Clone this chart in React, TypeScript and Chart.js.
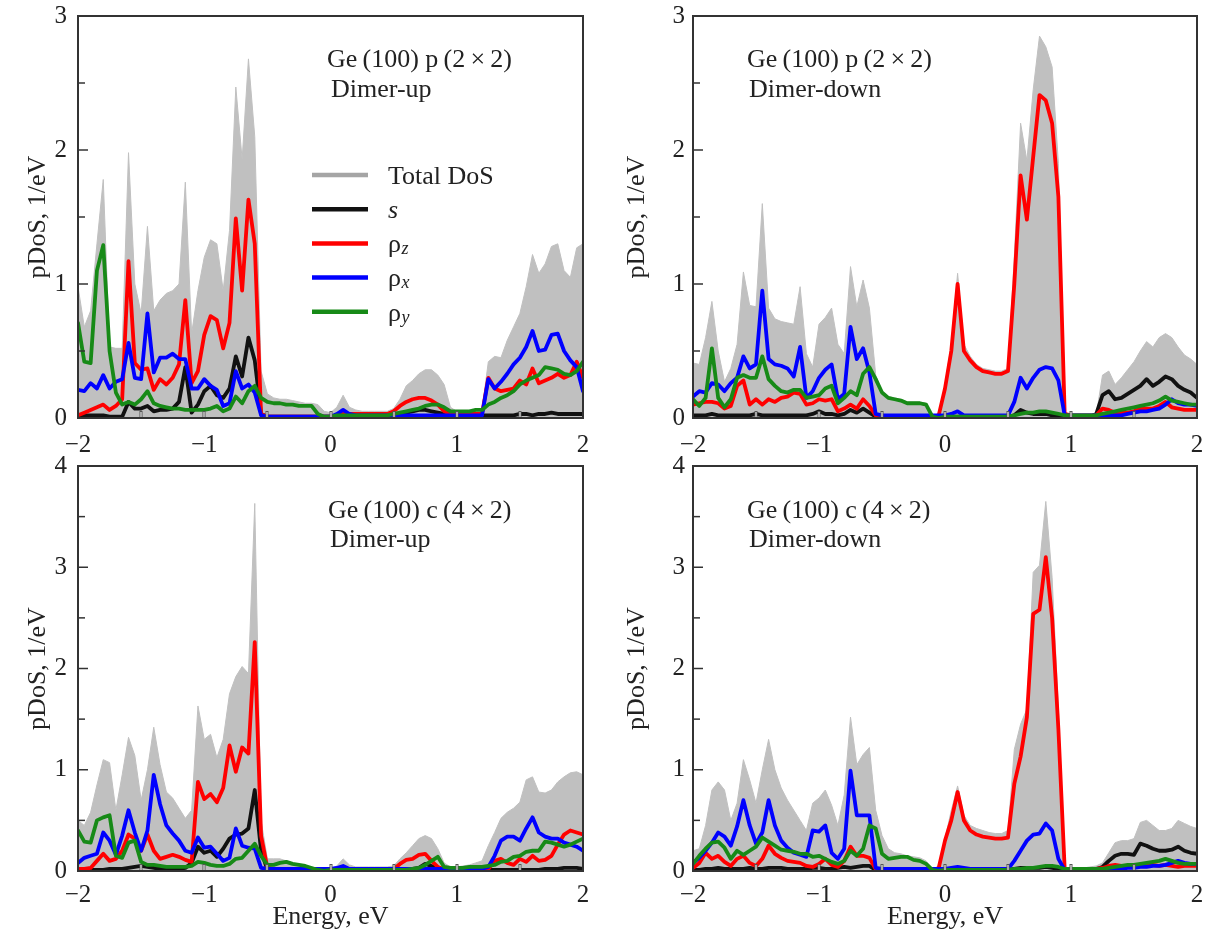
import React, { useEffect, useRef } from "react";
import { Chart, registerables } from "chart.js";

Chart.register(...registerables);

const SERIF = "'Liberation Serif', 'Times New Roman', Times, serif";
const INK = "#222222";
const FRAME = "#333333";

// Energy grid, eV
const ENERGY = [
  -2, -1.95, -1.9, -1.85, -1.8, -1.75, -1.7, -1.65, -1.6, -1.55,
  -1.5, -1.45, -1.4, -1.35, -1.3, -1.25, -1.2, -1.15, -1.1, -1.05,
  -1, -0.95, -0.9, -0.85, -0.8, -0.75, -0.7, -0.65, -0.6, -0.55,
  -0.5, -0.45, -0.4, -0.35, -0.3, -0.25, -0.2, -0.15, -0.1, -0.05,
  0, 0.05, 0.1, 0.15, 0.2, 0.25, 0.3, 0.35, 0.4, 0.45,
  0.5, 0.55, 0.6, 0.65, 0.7, 0.75, 0.8, 0.85, 0.9, 0.95,
  1, 1.05, 1.1, 1.15, 1.2, 1.25, 1.3, 1.35, 1.4, 1.45,
  1.5, 1.55, 1.6, 1.65, 1.7, 1.75, 1.8, 1.85, 1.9, 1.95,
  2,
];

// ---- Panel A: Ge(100) p(2x2), dimer-up ----
const A_TOTAL = [
  0.98, 0.68, 0.8, 1.3, 1.78, 0.53, 0.52, 0.52, 1.98, 1.0,
  0.78, 1.43, 0.8, 0.88, 0.93, 0.95, 1.0, 1.76, 0.63, 0.95,
  1.2, 1.33, 1.3, 0.95, 1.4, 2.47, 1.93, 2.68, 2.1, 0.35,
  0.18, 0.15, 0.14, 0.14, 0.13, 0.12, 0.11, 0.11, 0.1, 0.05,
  0.04, 0.08, 0.17, 0.08, 0.06, 0.05, 0.05, 0.05, 0.05, 0.05,
  0.07, 0.14, 0.24, 0.28, 0.33, 0.36, 0.36, 0.32, 0.25, 0.08,
  0.05, 0.05, 0.05, 0.05, 0.06, 0.42, 0.46, 0.45, 0.58, 0.68,
  0.78, 0.98, 1.22, 1.08, 1.15, 1.28, 1.3, 1.1, 1.05, 1.27,
  1.3,
];
const A_S = [
  0.02, 0.02, 0.02, 0.02, 0.02, 0.01, 0.01, 0.01, 0.12, 0.07,
  0.07, 0.09, 0.05, 0.06, 0.06, 0.07, 0.12, 0.38, 0.04, 0.1,
  0.2, 0.24, 0.17, 0.15, 0.22, 0.46, 0.31, 0.6, 0.43, 0.03,
  0.01, 0.01, 0.01, 0.01, 0.01, 0.01, 0.01, 0.01, 0.01, 0.01,
  0.01, 0.02, 0.02, 0.02, 0.02, 0.02, 0.02, 0.02, 0.02, 0.02,
  0.02, 0.03, 0.04, 0.05, 0.06, 0.06, 0.05, 0.04, 0.03, 0.02,
  0.02, 0.02, 0.02, 0.02, 0.02, 0.02, 0.02, 0.02, 0.02, 0.02,
  0.03, 0.03, 0.02, 0.03, 0.03, 0.04, 0.03, 0.03, 0.03, 0.03,
  0.03,
];
const A_PZ = [
  0.02, 0.04, 0.06, 0.08, 0.1, 0.06, 0.09, 0.14, 1.17, 0.41,
  0.36, 0.37, 0.21, 0.29, 0.25, 0.3, 0.4, 0.88, 0.26, 0.35,
  0.62, 0.76, 0.73, 0.52, 0.71, 1.49, 0.95, 1.63, 1.3, 0.03,
  0.01, 0.01, 0.01, 0.01, 0.01, 0.01, 0.01, 0.01, 0.01, 0.01,
  0.01, 0.02, 0.03, 0.03, 0.03, 0.03, 0.03, 0.03, 0.03, 0.03,
  0.05, 0.09, 0.12, 0.14, 0.15, 0.15, 0.13, 0.1, 0.05, 0.03,
  0.03, 0.03, 0.03, 0.03, 0.03, 0.3, 0.22, 0.2, 0.21, 0.22,
  0.28, 0.25, 0.37, 0.26, 0.28, 0.3, 0.33, 0.3, 0.32, 0.42,
  0.3,
];
const A_PX = [
  0.21, 0.2, 0.26, 0.22, 0.32, 0.22, 0.27, 0.29, 0.56, 0.3,
  0.29, 0.78, 0.34, 0.45, 0.45, 0.48, 0.44, 0.44, 0.22, 0.22,
  0.29, 0.24, 0.21, 0.09, 0.11, 0.35, 0.22, 0.25, 0.19, 0.02,
  0.01, 0.01, 0.01, 0.01, 0.01, 0.01, 0.01, 0.01, 0.01, 0.01,
  0.01, 0.03, 0.06, 0.03, 0.02, 0.02, 0.02, 0.02, 0.02, 0.02,
  0.02, 0.02, 0.02, 0.02, 0.02, 0.02, 0.02, 0.02, 0.02, 0.02,
  0.02, 0.02, 0.02, 0.02, 0.02, 0.29, 0.22, 0.27, 0.33, 0.4,
  0.45, 0.53, 0.65, 0.5, 0.51, 0.62, 0.63, 0.5, 0.43, 0.38,
  0.2,
];
const A_PY = [
  0.71, 0.42, 0.41, 1.1, 1.29, 0.5, 0.19, 0.1, 0.12, 0.1,
  0.14, 0.2, 0.11, 0.09, 0.08, 0.07, 0.07, 0.06, 0.06, 0.06,
  0.06, 0.07, 0.09, 0.05, 0.07, 0.16, 0.11, 0.2, 0.24, 0.15,
  0.12, 0.11, 0.11, 0.1, 0.1, 0.09, 0.09, 0.09, 0.03, 0.01,
  0.01, 0.02, 0.02, 0.02, 0.02, 0.02, 0.02, 0.02, 0.02, 0.02,
  0.03, 0.04, 0.05, 0.06, 0.07, 0.09, 0.1, 0.1, 0.08, 0.05,
  0.05, 0.05, 0.05, 0.06, 0.06, 0.1, 0.12, 0.15, 0.17, 0.2,
  0.25, 0.28, 0.3, 0.32, 0.38, 0.37, 0.36, 0.33, 0.32, 0.35,
  0.42,
];

// ---- Panel B: Ge(100) p(2x2), dimer-down ----
const B_TOTAL = [
  0.41, 0.4, 0.6, 0.87, 0.5, 0.27, 0.37, 0.55, 1.09, 0.84,
  0.83, 1.6, 0.82, 0.74, 0.72, 0.71, 0.7, 0.98, 0.48, 0.38,
  0.7, 0.75, 0.82, 0.55, 0.48, 1.13, 0.83, 1.03, 0.82, 0.32,
  0.2, 0.16, 0.15, 0.14, 0.12, 0.12, 0.12, 0.11, 0.01, 0.0,
  0.25, 0.55, 1.08, 0.55, 0.46, 0.4, 0.37, 0.36, 0.35, 0.35,
  0.37, 1.2, 2.2, 1.92, 2.45, 2.85, 2.77, 2.62, 1.9, 0.05,
  0.01, 0.01, 0.01, 0.01, 0.02, 0.32, 0.35, 0.25, 0.3, 0.36,
  0.42, 0.5, 0.57, 0.53, 0.6, 0.63, 0.6, 0.53, 0.47, 0.44,
  0.4,
];
const B_S = [
  0.02, 0.02, 0.02, 0.03, 0.02, 0.02, 0.02, 0.02, 0.02, 0.02,
  0.03, 0.02, 0.02, 0.02, 0.02, 0.02, 0.02, 0.02, 0.02, 0.03,
  0.05, 0.03, 0.03, 0.02, 0.03, 0.06, 0.04, 0.07, 0.04, 0.01,
  0.01, 0.01, 0.01, 0.01, 0.01, 0.01, 0.01, 0.01, 0.01, 0.01,
  0.01, 0.01, 0.01, 0.01, 0.01, 0.01, 0.01, 0.01, 0.01, 0.01,
  0.01, 0.02, 0.06, 0.04, 0.03, 0.03, 0.03, 0.02, 0.02, 0.01,
  0.01, 0.01, 0.01, 0.01, 0.03, 0.17, 0.2, 0.14, 0.15, 0.18,
  0.21, 0.24, 0.29, 0.24, 0.27, 0.31, 0.29, 0.24, 0.21, 0.19,
  0.15,
];
const B_PZ = [
  0.1, 0.11, 0.12, 0.12, 0.11, 0.07, 0.09, 0.24, 0.28, 0.1,
  0.14, 0.1, 0.14, 0.12, 0.15, 0.16, 0.19, 0.18, 0.1, 0.11,
  0.14, 0.13, 0.14, 0.05, 0.07, 0.1, 0.07, 0.14, 0.09, 0.02,
  0.01, 0.01, 0.01, 0.01, 0.01, 0.01, 0.01, 0.01, 0.01, 0.02,
  0.22, 0.5, 1.0, 0.5, 0.43, 0.38, 0.35, 0.34, 0.33, 0.33,
  0.35, 1.0, 1.81, 1.48, 1.95, 2.41, 2.37, 2.2, 1.65, 0.03,
  0.02, 0.02, 0.02, 0.02, 0.02, 0.07, 0.06, 0.04, 0.04, 0.04,
  0.05, 0.07, 0.07, 0.07, 0.09, 0.12, 0.08, 0.07, 0.06, 0.06,
  0.06,
];
const B_PX = [
  0.16, 0.2, 0.19, 0.26, 0.25, 0.2, 0.26, 0.3, 0.46, 0.37,
  0.4, 0.95, 0.44, 0.4, 0.39, 0.37, 0.31, 0.53, 0.15, 0.2,
  0.3, 0.36, 0.4, 0.14, 0.18, 0.68, 0.44, 0.52, 0.34, 0.03,
  0.02, 0.02, 0.02, 0.02, 0.02, 0.02, 0.02, 0.02, 0.02, 0.02,
  0.02, 0.03, 0.05, 0.02, 0.02, 0.02, 0.02, 0.02, 0.02, 0.02,
  0.02, 0.12, 0.3, 0.22, 0.3, 0.36, 0.38, 0.37, 0.28, 0.02,
  0.02, 0.02, 0.02, 0.02, 0.02, 0.02, 0.02, 0.02, 0.02, 0.03,
  0.04, 0.05, 0.05, 0.06, 0.07, 0.1, 0.14, 0.11, 0.1, 0.1,
  0.09,
];
const B_PY = [
  0.14, 0.09, 0.15, 0.52, 0.15, 0.08, 0.14, 0.3, 0.32, 0.3,
  0.3, 0.46, 0.29, 0.24, 0.2, 0.19, 0.21, 0.21, 0.15, 0.16,
  0.17, 0.22, 0.24, 0.11, 0.15, 0.2, 0.17, 0.33, 0.38, 0.29,
  0.19, 0.15, 0.14, 0.13, 0.11, 0.11, 0.11, 0.1, 0.01, 0.0,
  0.01, 0.01, 0.01, 0.01, 0.01, 0.01, 0.01, 0.01, 0.01, 0.01,
  0.01, 0.02, 0.03, 0.04, 0.04, 0.05, 0.05, 0.04, 0.03, 0.02,
  0.02, 0.02, 0.02, 0.02, 0.02, 0.03, 0.04, 0.05, 0.06, 0.07,
  0.08, 0.09, 0.1, 0.11, 0.13, 0.16, 0.13, 0.12, 0.11, 0.1,
  0.1,
];

// ---- Panel C: Ge(100) c(4x2), dimer-up ----
const C_TOTAL = [
  0.5, 0.45, 0.58, 0.85, 1.1, 1.07, 0.6, 0.95, 1.32, 1.14,
  0.7, 1.0, 1.42, 1.05, 0.78, 0.72, 0.62, 0.52, 0.6, 1.63,
  1.3, 1.35, 1.12, 1.3, 1.75, 1.92, 2.02, 1.95, 3.63, 0.5,
  0.12, 0.12, 0.12, 0.1, 0.08, 0.06, 0.05, 0.04, 0.03, 0.02,
  0.02, 0.05, 0.12, 0.06, 0.04, 0.04, 0.04, 0.04, 0.04, 0.04,
  0.05, 0.12, 0.18, 0.25, 0.32, 0.35, 0.32, 0.22, 0.08, 0.04,
  0.04, 0.05, 0.06, 0.08, 0.1, 0.25, 0.38, 0.52, 0.58, 0.62,
  0.68, 0.9, 0.93, 0.78, 0.77, 0.8, 0.88, 0.93, 0.97, 0.98,
  0.95,
];
const C_S = [
  0.02, 0.01, 0.01, 0.01, 0.01, 0.02, 0.02, 0.02, 0.03, 0.04,
  0.05, 0.04, 0.03, 0.02, 0.02, 0.02, 0.02, 0.03, 0.08, 0.24,
  0.18, 0.2, 0.14, 0.22, 0.32, 0.36, 0.37, 0.42, 0.8, 0.2,
  0.01, 0.01, 0.01, 0.01, 0.01, 0.01, 0.01, 0.01, 0.01, 0.01,
  0.01, 0.01, 0.01, 0.01, 0.01, 0.01, 0.01, 0.01, 0.01, 0.01,
  0.01, 0.01, 0.01, 0.02, 0.03, 0.07, 0.05, 0.02, 0.01, 0.01,
  0.01, 0.01, 0.01, 0.01, 0.01, 0.01, 0.01, 0.01, 0.01, 0.01,
  0.01, 0.01, 0.01, 0.01, 0.02, 0.02, 0.02, 0.03, 0.03, 0.03,
  0.02,
];
const C_PZ = [
  0.02, 0.02, 0.03, 0.1, 0.17, 0.1, 0.12, 0.2, 0.36, 0.32,
  0.2, 0.36, 0.2, 0.12, 0.14, 0.16, 0.14, 0.11, 0.09, 0.88,
  0.71, 0.76, 0.68, 0.82, 1.24, 0.98, 1.22, 1.16, 2.26, 0.35,
  0.03, 0.02, 0.02, 0.02, 0.02, 0.02, 0.02, 0.02, 0.02, 0.02,
  0.02, 0.02, 0.02, 0.02, 0.02, 0.02, 0.02, 0.02, 0.02, 0.02,
  0.02, 0.07, 0.11, 0.12, 0.16, 0.17, 0.1, 0.04, 0.02, 0.02,
  0.02, 0.02, 0.02, 0.02, 0.02, 0.02, 0.1, 0.12, 0.08, 0.06,
  0.12, 0.09, 0.15, 0.1, 0.11, 0.15, 0.26, 0.36, 0.4, 0.38,
  0.36,
];
const C_PX = [
  0.08, 0.13, 0.15, 0.17, 0.38, 0.3, 0.16, 0.35, 0.6, 0.38,
  0.2, 0.4, 0.95, 0.66, 0.45, 0.37, 0.3, 0.2, 0.18, 0.33,
  0.23, 0.24, 0.17, 0.1, 0.13, 0.42, 0.25, 0.23, 0.22, 0.03,
  0.02, 0.02, 0.02, 0.02, 0.02, 0.02, 0.02, 0.02, 0.02, 0.02,
  0.02, 0.03, 0.05, 0.02, 0.02, 0.02, 0.02, 0.02, 0.02, 0.02,
  0.02, 0.02, 0.02, 0.02, 0.02, 0.02, 0.02, 0.02, 0.02, 0.02,
  0.02, 0.02, 0.02, 0.02, 0.02, 0.04, 0.15, 0.3, 0.34, 0.34,
  0.3, 0.42, 0.53, 0.38, 0.34, 0.32, 0.32, 0.28, 0.26, 0.24,
  0.2,
];
const C_PY = [
  0.4, 0.29, 0.28, 0.5, 0.53, 0.55, 0.15, 0.13, 0.28, 0.3,
  0.09, 0.06, 0.06, 0.05, 0.04, 0.04, 0.04, 0.04, 0.05, 0.09,
  0.08, 0.06, 0.05, 0.05, 0.07, 0.12, 0.13, 0.2, 0.27, 0.15,
  0.06, 0.06, 0.08, 0.09, 0.07, 0.06, 0.05, 0.03, 0.01, 0.0,
  0.01, 0.01, 0.01, 0.01, 0.01, 0.01, 0.01, 0.01, 0.01, 0.01,
  0.01, 0.01, 0.01, 0.02, 0.03, 0.06, 0.1, 0.14, 0.04, 0.03,
  0.03, 0.03, 0.04, 0.04, 0.04, 0.05, 0.06, 0.09, 0.1, 0.14,
  0.15, 0.19, 0.2, 0.2, 0.29, 0.28, 0.26, 0.24, 0.26, 0.29,
  0.32,
];

// ---- Panel D: Ge(100) c(4x2), dimer-down ----
const D_TOTAL = [
  0.2, 0.22, 0.45, 0.8, 0.88, 0.8, 0.5, 0.67, 1.1, 0.9,
  0.67, 1.0, 1.3, 1.0, 0.82, 0.7, 0.6, 0.5, 0.4, 0.67,
  0.72, 0.8, 0.65, 0.45, 0.75, 1.52, 1.05, 1.15, 1.22, 0.6,
  0.35, 0.22, 0.18, 0.17, 0.15, 0.14, 0.13, 0.1, 0.02, 0.0,
  0.32, 0.6, 0.84, 0.55, 0.45, 0.42, 0.4, 0.38, 0.37, 0.37,
  0.4, 1.2, 1.45, 1.6, 2.95, 3.02, 3.65, 2.9, 1.6, 0.03,
  0.01, 0.02, 0.03, 0.04, 0.05, 0.08, 0.18, 0.28, 0.3, 0.3,
  0.32, 0.48, 0.5, 0.45, 0.4, 0.4, 0.42, 0.5, 0.47, 0.44,
  0.42,
];
const D_S = [
  0.01, 0.01, 0.02, 0.02, 0.03, 0.02, 0.02, 0.02, 0.02, 0.03,
  0.02, 0.02, 0.03, 0.03, 0.03, 0.02, 0.02, 0.02, 0.02, 0.03,
  0.03, 0.02, 0.02, 0.03, 0.04, 0.03, 0.04, 0.05, 0.05, 0.01,
  0.01, 0.01, 0.01, 0.01, 0.01, 0.01, 0.01, 0.01, 0.01, 0.01,
  0.01, 0.01, 0.01, 0.01, 0.01, 0.01, 0.01, 0.01, 0.01, 0.01,
  0.01, 0.02, 0.03, 0.03, 0.03, 0.03, 0.04, 0.03, 0.02, 0.01,
  0.01, 0.01, 0.01, 0.01, 0.02, 0.04, 0.1, 0.15, 0.17, 0.17,
  0.16, 0.27, 0.25, 0.22, 0.2, 0.2, 0.21, 0.24, 0.2, 0.18,
  0.17,
];
const D_PZ = [
  0.03, 0.08, 0.18, 0.12, 0.15, 0.09, 0.05, 0.12, 0.15, 0.08,
  0.05, 0.12, 0.25, 0.17, 0.13, 0.1, 0.09, 0.08, 0.05, 0.04,
  0.07, 0.12, 0.06, 0.04, 0.1, 0.24, 0.15, 0.15, 0.13, 0.02,
  0.01, 0.01, 0.01, 0.01, 0.01, 0.01, 0.01, 0.01, 0.01, 0.03,
  0.3, 0.5, 0.78, 0.5, 0.4, 0.36, 0.34, 0.33, 0.32, 0.32,
  0.33, 0.86, 1.13, 1.52, 2.54, 2.58, 3.1, 2.5, 1.4, 0.02,
  0.02, 0.02, 0.02, 0.02, 0.02, 0.03, 0.05, 0.06, 0.05, 0.04,
  0.04, 0.05, 0.05, 0.06, 0.05, 0.06, 0.05, 0.04, 0.05, 0.05,
  0.05,
];
const D_PX = [
  0.08, 0.13, 0.2, 0.28, 0.38, 0.34, 0.25, 0.44, 0.7, 0.45,
  0.27, 0.38, 0.7, 0.45, 0.3, 0.23, 0.18, 0.16, 0.14, 0.4,
  0.39, 0.45, 0.18, 0.12, 0.22, 0.99, 0.55, 0.55, 0.55, 0.03,
  0.02, 0.02, 0.02, 0.02, 0.02, 0.02, 0.02, 0.02, 0.02, 0.02,
  0.02, 0.03, 0.04, 0.03, 0.02, 0.02, 0.02, 0.02, 0.02, 0.02,
  0.02, 0.1, 0.2, 0.3, 0.36, 0.37, 0.47, 0.4, 0.12, 0.01,
  0.01, 0.01, 0.01, 0.01, 0.01, 0.01, 0.02, 0.02, 0.02, 0.03,
  0.03, 0.04, 0.04, 0.05, 0.05, 0.06, 0.08, 0.1, 0.08, 0.07,
  0.07,
];
const D_PY = [
  0.07, 0.15, 0.22, 0.28, 0.29, 0.23, 0.12, 0.2, 0.16, 0.2,
  0.24, 0.33, 0.29, 0.25, 0.21, 0.2, 0.19, 0.17, 0.17, 0.14,
  0.15, 0.12, 0.09, 0.07, 0.1, 0.2, 0.15, 0.22, 0.45, 0.42,
  0.17, 0.12, 0.13, 0.14, 0.14, 0.11, 0.1, 0.07, 0.01, 0.0,
  0.01, 0.01, 0.01, 0.01, 0.01, 0.01, 0.01, 0.01, 0.01, 0.01,
  0.01, 0.02, 0.02, 0.03, 0.03, 0.04, 0.05, 0.05, 0.04, 0.02,
  0.02, 0.02, 0.02, 0.02, 0.02, 0.02, 0.03, 0.04, 0.05, 0.06,
  0.06, 0.07, 0.08, 0.09, 0.1, 0.12, 0.1, 0.08, 0.07, 0.07,
  0.07,
];

const SERIES_LABELS = ["Total DoS", "s", "\u03C1z", "\u03C1x", "\u03C1y"];
const PANEL_TITLES = [
  ["Ge\u2009(100) p\u2009(2\u2009\u00D7\u20092)", "Dimer-up"],
  ["Ge\u2009(100) p\u2009(2\u2009\u00D7\u20092)", "Dimer-down"],
  ["Ge\u2009(100) c\u2009(4\u2009\u00D7\u20092)", "Dimer-up"],
  ["Ge\u2009(100) c\u2009(4\u2009\u00D7\u20092)", "Dimer-down"],
];
const X_MARKS = [-1.5, -1, -0.5, 0, 0.5, 1, 1.5];

const TOTAL_FILL = "rgb(192,192,192)";
const LEGEND_GREY = "rgb(165,165,165)";
const LINE_COLORS = ["#111111", "#ff0000", "#0000ff", "#178a17"];

type PanelSpec = {
  key: string;
  left: number; top: number; w: number; h: number;
  yMax: number; yAxisW: number; padRight: number; xAxisH: number;
  xTickPad: number; yTickPad: number; yTitlePad: number; showXTitle: boolean; legend: boolean;
  titles: string[]; titlePos: number[][];
  series: number[][];
};

const PANELS: PanelSpec[] = [
  {
    key: "a", left: 0, top: 0, w: 604, h: 470, yMax: 3, yAxisW: 78, padRight: 21, xAxisH: 52,
    xTickPad: 12, yTickPad: 11, yTitlePad: 23, showXTitle: false, legend: true,
    titles: PANEL_TITLES[0], titlePos: [[249, 50.7], [253, 80.7]],
    series: [A_TOTAL, A_S, A_PZ, A_PX, A_PY],
  },
  {
    key: "b", left: 604, top: 0, w: 604, h: 470, yMax: 3, yAxisW: 89, padRight: 11, xAxisH: 52,
    xTickPad: 12, yTickPad: 8, yTitlePad: 18, showXTitle: false, legend: false,
    titles: PANEL_TITLES[1], titlePos: [[54, 50.7], [56, 80.7]],
    series: [B_TOTAL, B_S, B_PZ, B_PX, B_PY],
  },
  {
    key: "c", left: 0, top: 450, w: 604, h: 490, yMax: 4, yAxisW: 78, padRight: 21, xAxisH: 69,
    xTickPad: 9, yTickPad: 11, yTitlePad: 23, showXTitle: true, legend: false,
    titles: PANEL_TITLES[2], titlePos: [[250, 52.3], [252, 81.3]],
    series: [C_TOTAL, C_S, C_PZ, C_PX, C_PY],
  },
  {
    key: "d", left: 604, top: 450, w: 604, h: 490, yMax: 4, yAxisW: 89, padRight: 11, xAxisH: 69,
    xTickPad: 9, yTickPad: 8, yTitlePad: 18, showXTitle: true, legend: false,
    titles: PANEL_TITLES[3], titlePos: [[54, 52.3], [56, 81.3]],
    series: [D_TOTAL, D_S, D_PZ, D_PX, D_PY],
  },
];

function fmtTick(v: number | string) {
  const n = Number(v);
  return n < 0 ? "\u2212" + Math.abs(n) : String(n);
}

function makeDecor(p: PanelSpec) {
  return {
    id: "decor_" + p.key,
    afterDatasetsDraw(chart: any) {
      const { ctx, chartArea: a } = chart;
      const xs = chart.scales.x;
      const ys = chart.scales.y;
      ctx.save();
      // inward ticks on the bottom axis
      for (const v of X_MARKS) {
        const px = Math.round(xs.getPixelForValue(v));
        ctx.fillStyle = "#555555";
        ctx.fillRect(px - 1.5, a.bottom - 7, 3, 7);
        ctx.fillStyle = "#ffffff";
        ctx.fillRect(px - 0.5, a.bottom - 6, 1, 6);
      }
      // inward ticks on the left axis
      ctx.strokeStyle = FRAME;
      ctx.lineWidth = 1.5;
      for (let k = 1; k < p.yMax * 2; k++) {
        const py = ys.getPixelForValue(k / 2);
        const len = k % 2 === 0 ? 10 : 7;
        ctx.beginPath();
        ctx.moveTo(a.left, py);
        ctx.lineTo(a.left + len, py);
        ctx.stroke();
      }
      // frame
      ctx.strokeStyle = FRAME;
      ctx.lineWidth = 2;
      ctx.strokeRect(a.left, a.top, a.right - a.left, a.bottom - a.top);
      // panel caption
      ctx.fillStyle = INK;
      ctx.textAlign = "left";
      ctx.textBaseline = "alphabetic";
      ctx.font = `26px ${SERIF}`;
      p.titles.forEach((t, i) => {
        ctx.fillText(t, a.left + p.titlePos[i][0], a.top + p.titlePos[i][1]);
      });
      // legend
      if (p.legend) {
        const x0 = a.left + 234;
        const x1 = a.left + 290;
        const tx = a.left + 310;
        chart.data.datasets.forEach((ds: any, i: number) => {
          const rowY = a.top + 159 + i * 34.2;
          ctx.strokeStyle = i === 0 ? LEGEND_GREY : ds.borderColor;
          ctx.lineWidth = 4.5;
          ctx.beginPath();
          ctx.moveTo(x0, rowY);
          ctx.lineTo(x1, rowY);
          ctx.stroke();
          const label: string = ds.label;
          const base = rowY + 8.8;
          ctx.fillStyle = INK;
          if (label === "s") {
            ctx.font = `italic 26px ${SERIF}`;
            ctx.fillText(label, tx, base);
          } else if (label.charAt(0) === "\u03C1") {
            ctx.font = `26px ${SERIF}`;
            ctx.fillText("\u03C1", tx, base);
            const w = ctx.measureText("\u03C1").width;
            ctx.font = `italic 18px ${SERIF}`;
            ctx.fillText(label.slice(1), tx + w + 0.5, base + 2);
          } else {
            ctx.font = `26px ${SERIF}`;
            ctx.fillText(label, tx, base);
          }
        });
      }
      ctx.restore();
    },
  };
}

function Panel({ p }: { p: PanelSpec }) {
  const ref = useRef<HTMLCanvasElement | null>(null);
  useEffect(() => {
    const canvas = ref.current;
    if (!canvas) return;
    const datasets = p.series.map((vals, k) => {
      const pts = ENERGY.map((e, i) => ({ x: e, y: vals[i] }));
      if (k === 0) {
        return {
          label: SERIES_LABELS[k], data: pts, fill: "origin",
          backgroundColor: TOTAL_FILL, borderColor: TOTAL_FILL, borderWidth: 1,
          pointRadius: 0, tension: 0, order: 5,
        };
      }
      return {
        label: SERIES_LABELS[k], data: pts, fill: false,
        borderColor: LINE_COLORS[k - 1], backgroundColor: LINE_COLORS[k - 1], borderWidth: 3.8,
        pointRadius: 0, tension: 0, order: 5 - k, borderJoinStyle: "round", borderCapStyle: "round",
      };
    });
    const tickFont = { family: SERIF, size: 25 };
    const chart = new Chart(canvas, {
      type: "line",
      data: { datasets } as any,
      options: {
        responsive: false,
        animation: false,
        devicePixelRatio: 1,
        events: [],
        layout: { padding: { top: 16, right: p.padRight, left: 0, bottom: 0 } },
        plugins: { legend: { display: false }, tooltip: { enabled: false } },
        scales: {
          x: {
            type: "linear", min: -2, max: 2,
            afterFit: (s: any) => {
              s.height = p.xAxisH;
              s.paddingLeft = 0;
              s.paddingRight = 0;
            },
            grid: { display: false, drawTicks: false },
            border: { display: false },
            ticks: {
              stepSize: 1, padding: p.xTickPad, font: tickFont, color: INK,
              maxRotation: 0, minRotation: 0, autoSkip: false,
              callback: (v: any) => fmtTick(v),
            },
            title: {
              display: p.showXTitle, text: "Energy, eV", color: INK,
              font: { family: SERIF, size: 26 }, padding: { top: 0, bottom: 7 },
            },
          },
          y: {
            type: "linear", min: 0, max: p.yMax,
            afterFit: (s: any) => {
              s.width = p.yAxisW;
              s.paddingTop = 0;
              s.paddingBottom = 0;
            },
            grid: { display: false, drawTicks: false },
            border: { display: false },
            ticks: { stepSize: 1, padding: p.yTickPad, font: tickFont, color: INK },
            title: {
              display: true, text: "pDoS, 1/eV", color: INK,
              font: { family: SERIF, size: 26 }, padding: { top: p.yTitlePad, bottom: 0 },
            },
          },
        },
      } as any,
      plugins: [makeDecor(p)],
    });
    return () => chart.destroy();
  }, [p]);
  return (
    <canvas
      ref={ref}
      width={p.w}
      height={p.h}
      style={{ position: "absolute", left: p.left, top: p.top, width: p.w, height: p.h }}
    />
  );
}

export default function App() {
  return (
    <div style={{ position: "absolute", left: 0, top: 0, width: 1208, height: 940, background: "#ffffff" }}>
      {PANELS.map((p) => (
        <Panel key={p.key} p={p} />
      ))}
    </div>
  );
}
